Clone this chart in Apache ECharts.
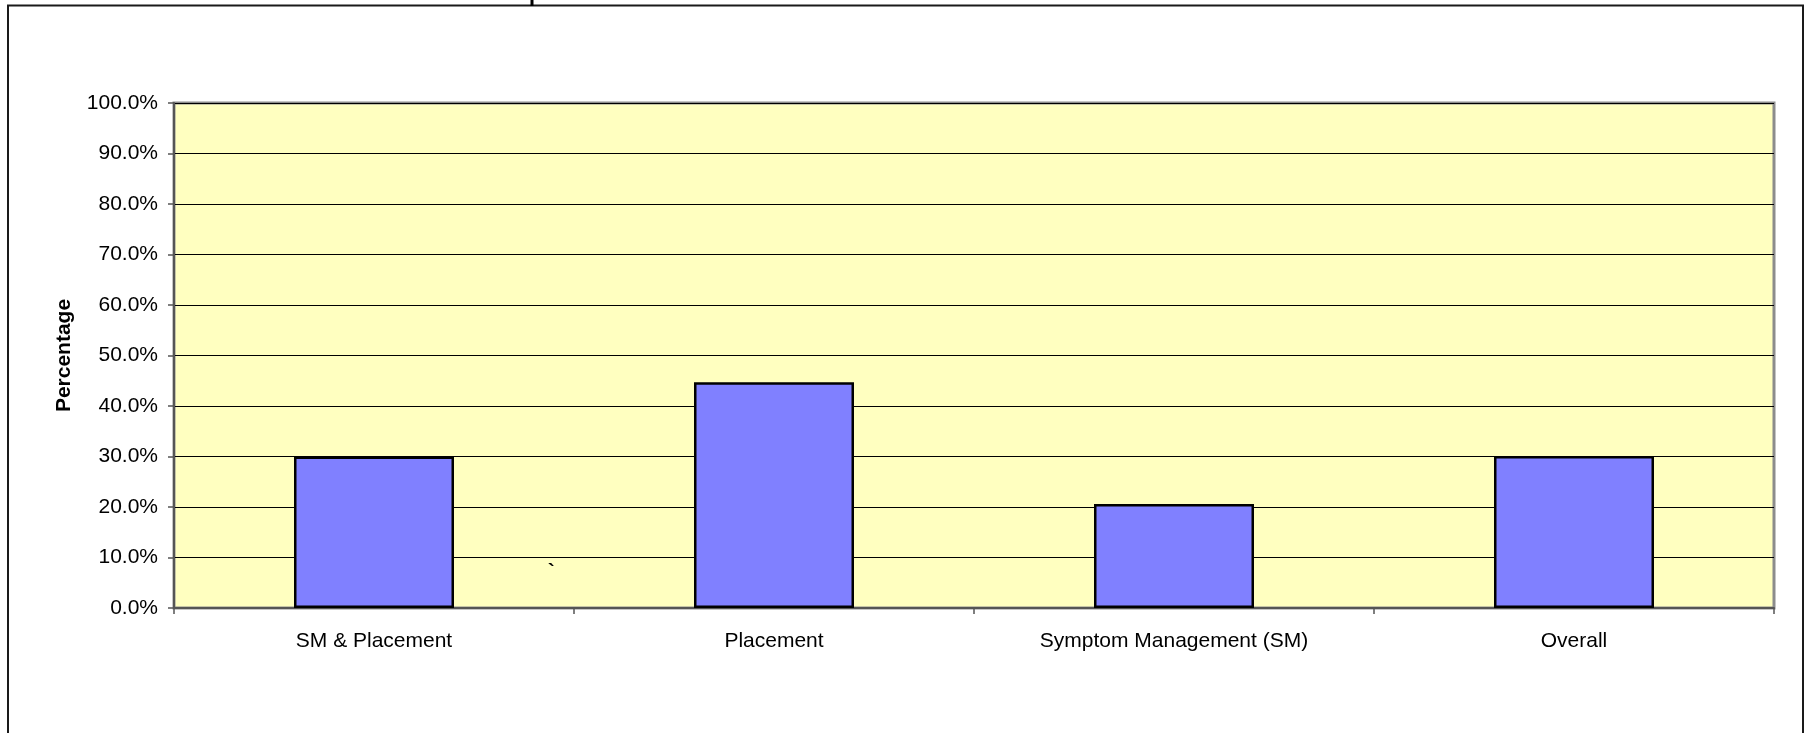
<!DOCTYPE html>
<html>
<head>
<meta charset="utf-8">
<title>Percentage by group</title>
<script src="https://cdn.jsdelivr.net/npm/echarts@6/dist/echarts.min.js"></script>
<style>
  html, body { margin: 0; padding: 0; background: #ffffff; }
  #chart { width: 1805px; height: 733px; }
</style>
</head>
<body>
<div id="chart"></div>
<script>
// Groups along the horizontal axis
const categories = ['SM & Placement', 'Placement', 'Symptom Management (SM)', 'Overall'];
// Share for each group (fraction of 1)
const percentages = [0.300, 0.447, 0.206, 0.301];
// Vertical scale
const yMin = 0;
const yMax = 1;
const yStep = 0.1;

const FONT = '"Liberation Sans", Arial, Helvetica, sans-serif';

const chart = echarts.init(document.getElementById('chart'), null, { renderer: 'canvas' });

chart.setOption({
  animation: false,
  backgroundColor: '#ffffff',
  textStyle: { fontFamily: FONT },
  grid: {
    left: 174,
    right: 31,
    top: 103,
    bottom: 125,
    show: true,
    backgroundColor: '#FFFFC0',
    borderColor: '#8c8c8c',
    borderWidth: 3
  },
  xAxis: {
    type: 'category',
    data: categories,
    axisLine: { show: true, lineStyle: { color: '#555555', width: 2 } },
    axisTick: { show: true, alignWithLabel: false, length: 6, lineStyle: { color: '#555555', width: 1.5 } },
    axisLabel: { fontSize: 21, color: '#000', margin: 23, fontFamily: FONT },
    splitLine: { show: false }
  },
  yAxis: {
    type: 'value',
    min: yMin,
    max: yMax,
    interval: yStep,
    name: 'Percentage',
    nameLocation: 'middle',
    nameGap: 99,
    nameRotate: 90,
    nameTextStyle: { fontSize: 21, fontWeight: 'bold', color: '#000', fontFamily: FONT },
    axisLine: { show: true, lineStyle: { color: '#555555', width: 2 } },
    axisTick: { show: true, length: 6, lineStyle: { color: '#555555', width: 1.5 } },
    axisLabel: {
      fontSize: 21,
      color: '#000',
      margin: 16,
      fontFamily: FONT,
      formatter: v => (v * 100).toFixed(1) + '%'
    },
    splitLine: { show: true, lineStyle: { color: '#000000', width: 1 } }
  },
  series: [{
    type: 'bar',
    data: percentages,
    barWidth: '40%',
    itemStyle: { color: '#8080FF', borderColor: '#000000', borderWidth: 2.5 }
  }],
  graphic: [
    // outer frame of the chart area
    {
      type: 'rect',
      silent: true,
      shape: { x: 8, y: 5.5, width: 1795, height: 800 },
      style: { fill: 'none', stroke: '#1a1a1a', lineWidth: 2 },
      z: 10
    },
    // short stub above the frame
    {
      type: 'line',
      silent: true,
      shape: { x1: 532, y1: 0, x2: 532, y2: 6 },
      style: { stroke: '#000', lineWidth: 3 },
      z: 10
    },
    // stray mark inside the plot
    {
      type: 'text',
      silent: true,
      style: { text: '`', x: 548, y: 562, fontSize: 20, fontWeight: 'bold', fill: '#000', fontFamily: FONT },
      z: 10
    }
  ]
});
</script>
</body>
</html>
